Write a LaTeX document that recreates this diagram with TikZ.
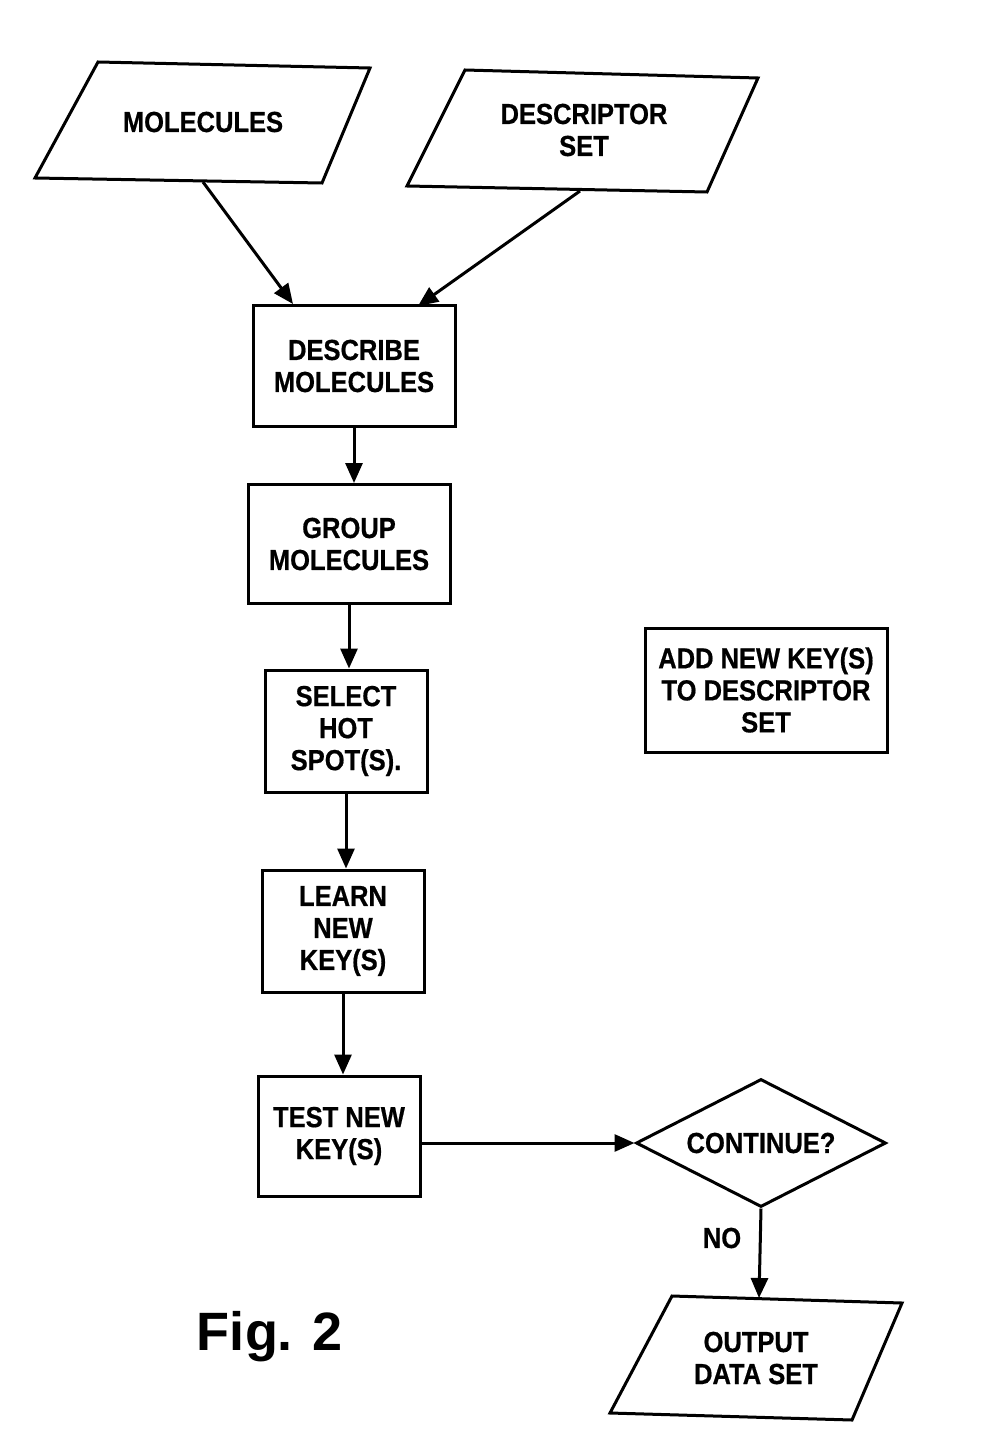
\documentclass[tikz,border=0pt]{standalone}
\usepackage{fontspec}
\setmainfont{Liberation Sans}
\newfontfamily\labfont[FakeStretch=0.88,BoldFeatures={FakeBold=0.6}]{Liberation Sans}
\usetikzlibrary{arrows.meta,shapes.geometric}
\begin{document}
\begin{tikzpicture}[x=1pt,y=-1pt,
  lbl/.style={font=\labfont\bfseries\fontsize{29}{32}\selectfont,align=center,inner sep=0pt},
  boxnode/.style={draw,line width=3pt,inner sep=0pt,font=\labfont\bfseries\fontsize{29}{32}\selectfont,align=center},
  shp/.style={draw,line width=3pt,line join=miter},
  arr/.style={line width=3pt,-{Triangle[length=20pt,width=17pt]}}]
\useasboundingbox (0,0) rectangle (999,1434);
% parallelogram: molecules
\draw[shp] (98,62) -- (370,68) -- (322,183) -- (35,178) -- cycle;
\node[lbl] (mol) at (203,122) {MOLECULES};
\coordinate (molout) at (203,182);
% parallelogram: descriptor set
\draw[shp] (465,70) -- (758,78) -- (707,192) -- (407,186) -- cycle;
\node[lbl] (desc) at (584,130) {DESCRIPTOR\\SET};
\coordinate (descout) at (580,191);
% boxes
\node[boxnode,minimum width=202pt,minimum height=121pt] (describe) at (354,366) {DESCRIBE\\MOLECULES};
\node[boxnode,minimum width=202pt,minimum height=119pt] (group) at (349,544) {GROUP\\MOLECULES};
\node[boxnode,minimum width=162pt,minimum height=122pt] (select) at (346,731) {SELECT\\HOT\\SPOT(S).};
\node[boxnode,minimum width=162pt,minimum height=122pt] (learn) at (343,931) {LEARN\\NEW\\KEY(S)};
\node[boxnode,minimum width=162pt,minimum height=120pt] (test) at (339,1136) {TEST NEW\\KEY(S)};
\node[boxnode,minimum width=242pt,minimum height=124pt] (add) at (766,690) {ADD NEW KEY(S)\\TO DESCRIPTOR\\SET};
% diamond
\node[draw,line width=3pt,shape=diamond,aspect=1.95,inner sep=0pt,minimum width=250pt,minimum height=128pt,font=\labfont\bfseries\fontsize{29}{32}\selectfont] (cont) at (761,1143) {CONTINUE?};
% output parallelogram
\draw[shp] (672,1296) -- (902,1303) -- (852,1420) -- (610,1413) -- cycle;
\node[lbl] (out) at (756,1358) {OUTPUT\\DATA SET};
\coordinate (outin) at (759,1298);
% connectors
\draw[arr] (molout) -- (293,304);
\draw[arr] (descout) -- (418,306);
\draw[arr] (describe.south) -- (describe.south |- group.north);
\draw[arr] (group.south) -- (group.south |- select.north);
\draw[arr] (select.south) -- (select.south |- learn.north);
\draw[arr] (learn.south) -- (learn.south |- test.north);
\draw[arr] (test.east |- cont.west) -- (cont.west);
\draw[arr] (cont.south) -- (outin);
\node[lbl] (no) at (722,1238) {NO};
\node[font=\bfseries\fontsize{54}{60}\selectfont,inner sep=0pt] (fig) at (270,1337) {Fig. 2};
\end{tikzpicture}
\end{document}
